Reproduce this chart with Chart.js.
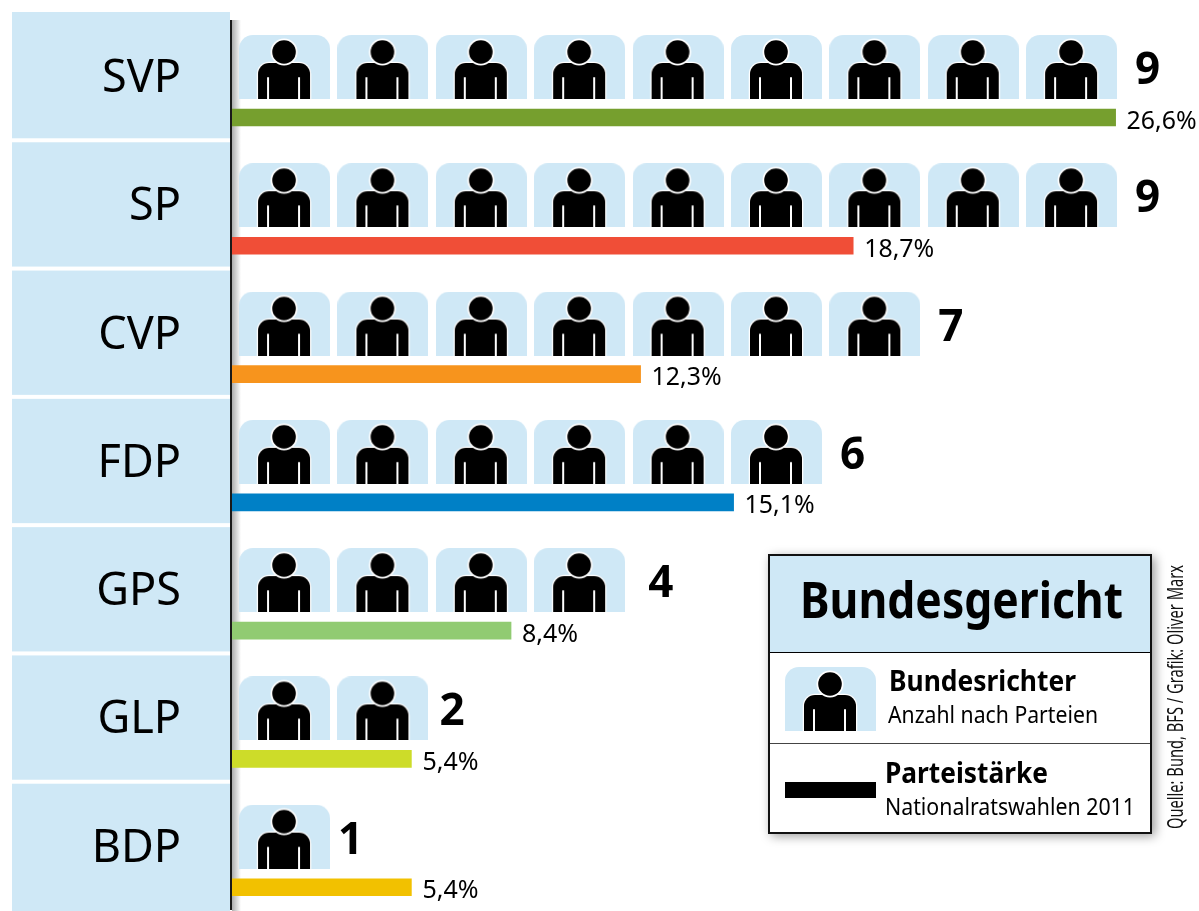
<!DOCTYPE html>
<html lang="de">
<head>
<meta charset="utf-8">
<title>Bundesgericht</title>
<script src="https://cdn.jsdelivr.net/npm/chart.js@4/dist/chart.umd.min.js"></script>
<style>
  html, body { margin: 0; background: #fff; height: 911px; overflow: hidden; }
  canvas { display: block; }
</style>
</head>
<body>
<canvas id="chart" width="1199" height="914"></canvas>
<script>
const parties = ['SVP', 'SP', 'CVP', 'FDP', 'GPS', 'GLP', 'BDP'];
const judges = [9, 9, 7, 6, 4, 2, 1];
const shares = [26.6, 18.7, 12.3, 15.1, 8.4, 5.4, 5.4];
const shareLabels = ['26,6%', '18,7%', '12,3%', '15,1%', '8,4%', '5,4%', '5,4%'];
const barColors = ['#769f2e', '#f04e37', '#f7941d', '#0080c6', '#91cb72', '#cddc29', '#f2c100'];

const paleBlue = '#cfe8f6';
const font = "'Noto Sans'";

// Sitzbild fuer einen Richter, wird als pointStyle benutzt
function makeJudgeIcon() {
  const c = document.createElement('canvas');
  c.width = 91;
  c.height = 64;
  const g = c.getContext('2d');
  g.fillStyle = paleBlue;
  g.beginPath();
  g.roundRect(0, 0, 91, 64, [14, 14, 0, 0]);
  g.fill();
  // Koerper
  g.beginPath();
  g.roundRect(19, 28, 52, 40, [11, 11, 0, 0]);
  g.fillStyle = '#000';
  g.strokeStyle = '#fff';
  g.lineWidth = 2.5;
  g.stroke();
  g.fill();
  // Kopf
  g.beginPath();
  g.arc(45, 17, 13.5, 0, Math.PI * 2);
  g.fillStyle = '#fff';
  g.fill();
  g.beginPath();
  g.arc(45, 17, 11.8, 0, Math.PI * 2);
  g.fillStyle = '#000';
  g.fill();
  // Armlinien
  g.strokeStyle = '#fff';
  g.lineWidth = 2;
  g.lineCap = 'round';
  [29, 60].forEach(x => {
    g.beginPath();
    g.moveTo(x, 43);
    g.lineTo(x, 66);
    g.stroke();
  });
  return c;
}

const judgeIcon = makeJudgeIcon();

// Hilfspunkte: Balken und Figuren liegen innerhalb der Zeile versetzt
const barOffset = 0.299;
const seatOffset = -0.095;
const labelShift = 3; // Schrift sitzt sonst zu hoch in der Zeile
const countNudge = [0, 0, 0, 0, 5, -7, -10];
const seatPoints = [];
judges.forEach((n, row) => {
  for (let i = 1; i <= n; i++) seatPoints.push({ x: i, y: row + seatOffset });
});

const panelPlugin = {
  id: 'panel',
  beforeDraw(chart) {
    const { ctx, scales } = chart;
    const step = scales.y.getPixelForValue(1) - scales.y.getPixelForValue(0);
    ctx.save();
    ctx.fillStyle = '#fff';
    ctx.fillRect(0, 0, chart.width, chart.height);
    // Schatten rechts neben der Achse
    const shadow = ctx.createLinearGradient(232, 0, 241, 0);
    shadow.addColorStop(0, 'rgba(0,0,0,0.32)');
    shadow.addColorStop(1, 'rgba(0,0,0,0)');
    ctx.fillStyle = shadow;
    ctx.fillRect(232, 20, 9, chart.height - 20);
    // Zeilen links
    ctx.fillStyle = paleBlue;
    parties.forEach((p, i) => {
      const edge = scales.y.getPixelForValue(i) - step / 2 - labelShift;
      const top = i === 0 ? edge : edge + 2;
      const bottom = i === parties.length - 1 ? chart.height : edge + step - 2;
      ctx.fillRect(12, top, 218, bottom - top);
    });
    ctx.fillStyle = '#1a1a1a';
    ctx.fillRect(230, 20, 2, 890);
    ctx.restore();
  }
};

const labelPlugin = {
  id: 'labels',
  afterDatasetsDraw(chart) {
    const { ctx, scales } = chart;
    ctx.save();
    ctx.fillStyle = '#000';
    ctx.textBaseline = 'alphabetic';
    parties.forEach((p, i) => {
      const seatY = scales.yPos.getPixelForValue(i + seatOffset);
      const barY = scales.yPos.getPixelForValue(i + barOffset);
      ctx.font = `700 44px ${font}`;
      ctx.fillText(String(judges[i]), scales.xSeat.getPixelForValue(judges[i]) + 63.5 + countNudge[i], seatY + 17);
      ctx.font = `400 25px ${font}`;
      ctx.fillText(shareLabels[i], scales.x.getPixelForValue(shares[i]) + 11, barY + 11, 70);
    });
    drawLegend(ctx);
    drawSource(ctx);
    ctx.restore();
  }
};

function drawLegend(ctx) {
  ctx.save();
  ctx.shadowColor = 'rgba(0,0,0,0.4)';
  ctx.shadowBlur = 10;
  ctx.shadowOffsetX = 3;
  ctx.shadowOffsetY = 3;
  ctx.fillStyle = '#fff';
  ctx.fillRect(768, 554, 384, 279);
  ctx.restore();

  ctx.fillStyle = paleBlue;
  ctx.fillRect(769, 555, 382, 97);
  ctx.fillStyle = '#000';
  ctx.fillRect(769, 652, 382, 1);
  ctx.fillStyle = '#444';
  ctx.fillRect(769, 743, 382, 1);
  ctx.strokeStyle = '#111';
  ctx.lineWidth = 2;
  ctx.strokeRect(769, 555, 382, 278);

  ctx.drawImage(judgeIcon, 785, 667);
  ctx.fillStyle = '#000';
  ctx.fillRect(785, 782, 91, 16);

  ctx.font = `700 50px ${font}`;
  ctx.fillText('Bundesgericht', 800, 618, 323);
  ctx.font = `700 28px ${font}`;
  ctx.fillText('Bundesrichter', 889, 691, 187);
  ctx.fillText('Parteistärke', 885, 783, 163);
  ctx.font = `400 23px ${font}`;
  ctx.fillText('Anzahl nach Parteien', 888, 723, 210);
  ctx.fillText('Nationalratswahlen 2011', 885, 815, 250);
}

function drawSource(ctx) {
  ctx.save();
  ctx.translate(1183, 829);
  ctx.rotate(-Math.PI / 2);
  ctx.font = `400 21px ${font}`;
  ctx.fillStyle = '#111';
  ctx.fillText('Quelle: Bund, BFS / Grafik: Oliver Marx', 0, 0, 264);
  ctx.restore();
}

new Chart(document.getElementById('chart'), {
  data: {
    labels: parties,
    datasets: [
      {
        type: 'bar',
        label: 'Parteistärke',
        data: shares.map((v, i) => ({ x: v, y: i + barOffset })),
        backgroundColor: barColors,
        barThickness: 17,
        xAxisID: 'x',
        yAxisID: 'yPos'
      },
      {
        type: 'scatter',
        label: 'Bundesrichter',
        data: seatPoints,
        pointStyle: judgeIcon,
        pointRadius: 10,
        xAxisID: 'xSeat',
        yAxisID: 'yPos'
      }
    ]
  },
  options: {
    indexAxis: 'y',
    responsive: false,
    animation: false,
    layout: { autoPadding: false, padding: { top: 12 + labelShift, bottom: 1 } },
    plugins: { legend: { display: false }, tooltip: { enabled: false } },
    scales: {
      x: { type: 'linear', display: false, min: 0, max: 29.11 },
      xSeat: { type: 'linear', display: false, min: 0.466, max: 10.295 },
      yPos: { type: 'linear', display: false, offset: false, min: -0.5, max: 6.5, reverse: true },
      y: {
        type: 'category',
        labels: parties,
        position: 'left',
        offset: true,
        afterFit(scale) {
          scale.width = 232;
          scale.paddingTop = 0;
          scale.paddingBottom = 0;
          scale.paddingLeft = 0;
          scale.paddingRight = 0;
        },
        grid: { display: false, drawTicks: true, tickLength: 51 },
        border: { display: false },
        ticks: {
          color: '#000',
          padding: 0,
          font: { family: 'Noto Sans', size: 45, weight: '400' }
        }
      }
    }
  },
  plugins: [panelPlugin, labelPlugin]
});
</script>
</body>
</html>
